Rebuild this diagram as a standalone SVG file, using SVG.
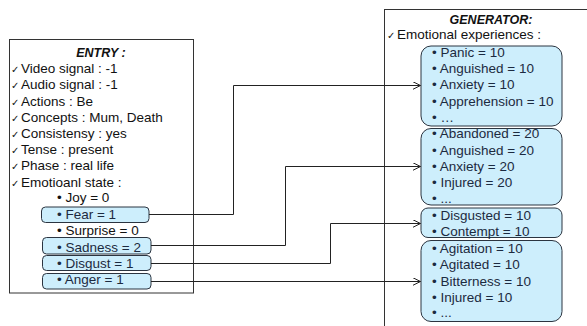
<svg xmlns="http://www.w3.org/2000/svg" width="587" height="326" viewBox="0 0 587 326">
<defs>
<style>
.frame{fill:#fff;stroke:#333;stroke-width:1}
.item{fill:#cdeefc;stroke:#2b3440;stroke-width:1}
.panel{fill:#cdeefc;stroke:#2b3440;stroke-width:1}
.t{font-family:"Liberation Sans",Arial,sans-serif;font-size:13.5px;fill:#111}
.ti{font-family:"Liberation Sans",Arial,sans-serif;font-size:13.5px;fill:#1c2a40}
.h{font-family:"Liberation Sans",Arial,sans-serif;font-size:12.5px;font-weight:bold;font-style:italic;fill:#111;text-anchor:middle}
.ck{font-family:"DejaVu Sans",sans-serif;font-size:10px;fill:#111}
.conn{fill:none;stroke:#222;stroke-width:1}
</style>
<marker id="arr" markerWidth="10" markerHeight="10" refX="8" refY="4" orient="auto" markerUnits="userSpaceOnUse">
<path d="M0,0 L8,4 L0,8" fill="none" stroke="#222" stroke-width="1"/>
</marker>
</defs>

<g id="entry">
<rect class="frame" x="9.5" y="39.5" width="184" height="253.5"/>
<text class="h" x="101" y="56.5">ENTRY :</text>
<text class="ck" x="11" y="73.2">✓</text><text class="t" x="21" y="73.2">Video signal : -1</text>
<text class="ck" x="11" y="89.4">✓</text><text class="t" x="21" y="89.4">Audio signal : -1</text>
<text class="ck" x="11" y="105.6">✓</text><text class="t" x="21" y="105.6">Actions : Be</text>
<text class="ck" x="11" y="121.8">✓</text><text class="t" x="21" y="121.8">Concepts : Mum, Death</text>
<text class="ck" x="11" y="138">✓</text><text class="t" x="21" y="138">Consistensy : yes</text>
<text class="ck" x="11" y="154.2">✓</text><text class="t" x="21" y="154.2">Tense : present</text>
<text class="ck" x="11" y="170.4">✓</text><text class="t" x="21" y="170.4">Phase : real life</text>
<text class="ck" x="11" y="186.6">✓</text><text class="t" x="21" y="186.6">Emotioanl state :</text>
<text class="t" x="57" y="202">• Joy = 0</text>
<text class="t" x="57" y="235">• Surprise = 0</text>
</g>

<g id="entry-fear">
<rect class="item" x="41.5" y="207" width="107.5" height="15.5" rx="4"/>
<text class="ti" x="57" y="218.5">• Fear = 1</text>
</g>
<g id="entry-sadness">
<rect class="item" x="42.5" y="237.5" width="108.5" height="16.5" rx="4"/>
<text class="ti" x="57" y="251.5">• Sadness = 2</text>
</g>
<g id="entry-disgust">
<rect class="item" x="42.5" y="255.5" width="108.5" height="15" rx="4"/>
<text class="ti" x="57" y="267.5">• Disgust = 1</text>
</g>
<g id="entry-anger">
<rect class="item" x="42.5" y="273.5" width="108.5" height="15.5" rx="4"/>
<text class="ti" x="57" y="284">• Anger = 1</text>
</g>

<g id="generator">
<rect class="frame" x="384.5" y="9.5" width="220" height="330"/>
<text class="h" x="491" y="23.5">GENERATOR:</text>
<text class="ck" x="387" y="38.5">✓</text><text class="t" x="397" y="38.5">Emotional experiences :</text>
</g>

<g id="gen-fear">
<rect class="panel" x="421" y="46" width="141" height="80" rx="10"/>
<text class="ti" x="432" y="57">• Panic = 10</text>
<text class="ti" x="432" y="73.2">• Anguished = 10</text>
<text class="ti" x="432" y="89.4">• Anxiety = 10</text>
<text class="ti" x="432" y="105.6">• Apprehension = 10</text>
<text class="ti" x="432" y="121.8">• …</text>
</g>
<g id="gen-sadness">
<rect class="panel" x="421" y="128.5" width="141" height="76.5" rx="10"/>
<text class="ti" x="432" y="138.3">• Abandoned = 20</text>
<text class="ti" x="432" y="154.6">• Anguished = 20</text>
<text class="ti" x="432" y="170.9">• Anxiety = 20</text>
<text class="ti" x="432" y="187.2">• Injured = 20</text>
<text class="ti" x="432" y="203.3">• ...</text>
</g>
<g id="gen-disgust">
<rect class="panel" x="421" y="208" width="141" height="29.5" rx="7"/>
<text class="ti" x="432" y="220">• Disgusted = 10</text>
<text class="ti" x="432" y="236">• Contempt = 10</text>
</g>
<g id="gen-anger">
<rect class="panel" x="421" y="240.5" width="141" height="81" rx="10"/>
<text class="ti" x="432" y="252.7">• Agitation = 10</text>
<text class="ti" x="432" y="269.2">• Agitated = 10</text>
<text class="ti" x="432" y="285.7">• Bitterness = 10</text>
<text class="ti" x="432" y="301.7">• Injured = 10</text>
<text class="ti" x="432" y="316.7">• ...</text>
</g>

<g id="connectors">
<polyline class="conn" points="149,214.5 233.5,214.5 233.5,85.5 420.5,85.5" marker-end="url(#arr)"/>
<polyline class="conn" points="151,245.5 285.5,245.5 285.5,166.5 420.5,166.5" marker-end="url(#arr)"/>
<polyline class="conn" points="151,263.5 330.5,263.5 330.5,223.5 420.5,223.5" marker-end="url(#arr)"/>
<polyline class="conn" points="151,281.5 420.5,281.5" marker-end="url(#arr)"/>
</g>
</svg>
